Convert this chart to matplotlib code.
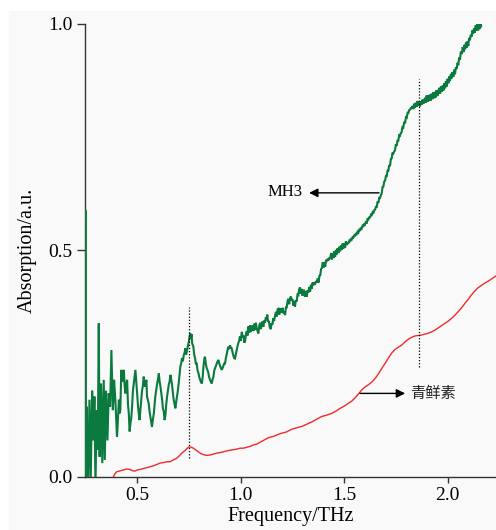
import numpy as np
import matplotlib
matplotlib.use("Agg")
import matplotlib.pyplot as plt
from matplotlib.patches import Rectangle

# ---------------- data ----------------
green_data = [
    (0.2485, -0.05), (0.2505, 0.589), (0.2525, -0.05), (0.2555, 0.155), (0.2585, 0.02),
    (0.263, -0.03), (0.270, 0.17), (0.276, -0.01), (0.283, 0.19), (0.289, 0.08),
    (0.294, 0.177), (0.299, -0.02), (0.305, 0.147), (0.310, 0.06), (0.315, 0.339),
    (0.319, 0.044), (0.326, 0.206), (0.332, 0.03), (0.339, 0.214), (0.344, 0.037),
    (0.350, 0.19), (0.357, 0.08), (0.363, 0.184), (0.370, 0.155), (0.376, 0.28),
    (0.383, 0.147), (0.389, 0.214), (0.395, 0.17), (0.403, 0.088), (0.408, 0.13),
    (0.412, 0.17), (0.416, 0.14), (0.419, 0.147), (0.424, 0.236), (0.428, 0.21),
    (0.432, 0.23), (0.436, 0.236), (0.440, 0.20), (0.444, 0.184), (0.448, 0.205),
    (0.452, 0.214), (0.456, 0.16), (0.460, 0.14), (0.464, 0.10), (0.468, 0.118),
    (0.472, 0.13), (0.476, 0.155), (0.480, 0.19), (0.484, 0.206), (0.488, 0.22),
    (0.492, 0.236), (0.496, 0.21), (0.500, 0.184), (0.504, 0.16), (0.508, 0.14),
    (0.512, 0.125), (0.516, 0.147), (0.520, 0.17), (0.524, 0.19), (0.528, 0.20),
    (0.532, 0.221), (0.536, 0.205), (0.540, 0.199), (0.545, 0.214), (0.548, 0.177),
    (0.552, 0.17), (0.556, 0.162), (0.560, 0.145), (0.564, 0.133), (0.568, 0.12),
    (0.572, 0.11), (0.576, 0.125), (0.581, 0.14), (0.585, 0.16), (0.588, 0.177),
    (0.592, 0.19), (0.597, 0.206), (0.601, 0.215), (0.605, 0.228), (0.609, 0.21),
    (0.613, 0.199), (0.617, 0.185), (0.621, 0.17), (0.625, 0.15), (0.629, 0.144),
    (0.633, 0.125), (0.637, 0.136), (0.641, 0.16), (0.645, 0.177), (0.649, 0.19),
    (0.653, 0.203), (0.657, 0.21), (0.661, 0.225), (0.665, 0.215), (0.669, 0.203),
    (0.673, 0.185), (0.677, 0.17), (0.681, 0.16), (0.685, 0.151), (0.689, 0.165),
    (0.693, 0.177), (0.697, 0.19), (0.701, 0.206), (0.705, 0.225), (0.709, 0.243),
    (0.713, 0.25), (0.717, 0.262), (0.721, 0.255), (0.726, 0.269), (0.730, 0.275),
    (0.733, 0.284), (0.737, 0.27), (0.742, 0.28), (0.746, 0.29), (0.750, 0.298),
    (0.754, 0.31), (0.757, 0.317), (0.760, 0.305), (0.763, 0.315), (0.766, 0.295),
    (0.772, 0.287), (0.776, 0.27), (0.780, 0.262), (0.784, 0.25), (0.788, 0.25),
    (0.792, 0.235), (0.796, 0.23), (0.800, 0.221), (0.804, 0.215), (0.808, 0.21),
    (0.813, 0.206), (0.817, 0.22), (0.821, 0.245), (0.825, 0.26), (0.828, 0.265),
    (0.832, 0.25), (0.836, 0.24), (0.840, 0.236), (0.844, 0.23), (0.848, 0.22),
    (0.852, 0.215), (0.856, 0.21), (0.861, 0.206), (0.865, 0.215), (0.869, 0.221),
    (0.873, 0.235), (0.877, 0.24), (0.881, 0.245), (0.885, 0.25), (0.889, 0.255),
    (0.893, 0.258), (0.897, 0.25), (0.901, 0.245), (0.905, 0.24), (0.909, 0.236),
    (0.913, 0.24), (0.917, 0.245), (0.921, 0.25), (0.925, 0.25), (0.929, 0.262),
    (0.933, 0.27), (0.937, 0.28), (0.941, 0.287), (0.945, 0.282), (0.949, 0.29),
    (0.953, 0.285), (0.957, 0.284), (0.961, 0.275), (0.965, 0.268), (0.969, 0.262),
    (0.973, 0.261), (0.977, 0.27), (0.981, 0.28), (0.985, 0.288), (0.989, 0.295),
    (0.993, 0.30), (0.997, 0.31),
    (1.001, 0.300), (1.006, 0.320), (1.010, 0.308), (1.014, 0.312), (1.018, 0.296),
    (1.022, 0.300), (1.026, 0.314), (1.030, 0.322), (1.034, 0.312), (1.038, 0.332),
    (1.042, 0.318), (1.046, 0.334), (1.050, 0.320), (1.054, 0.328), (1.058, 0.334),
    (1.062, 0.322), (1.066, 0.338), (1.070, 0.324), (1.074, 0.340), (1.078, 0.328),
    (1.082, 0.322), (1.086, 0.316), (1.090, 0.332), (1.094, 0.340), (1.098, 0.326),
    (1.102, 0.335), (1.106, 0.343), (1.110, 0.331), (1.114, 0.345), (1.118, 0.340),
    (1.122, 0.352), (1.126, 0.346), (1.129, 0.358), (1.133, 0.342), (1.137, 0.344),
    (1.141, 0.330), (1.146, 0.326), (1.150, 0.339), (1.154, 0.336), (1.158, 0.350),
    (1.162, 0.344), (1.167, 0.357), (1.171, 0.364), (1.175, 0.354), (1.179, 0.370),
    (1.183, 0.371), (1.187, 0.358), (1.191, 0.372), (1.195, 0.362), (1.199, 0.368),
    (1.203, 0.373), (1.207, 0.361), (1.211, 0.364), (1.215, 0.357), (1.219, 0.374),
    (1.223, 0.374), (1.227, 0.388), (1.231, 0.393), (1.235, 0.381), (1.239, 0.394),
    (1.243, 0.398), (1.247, 0.390), (1.251, 0.392), (1.255, 0.378), (1.259, 0.388),
    (1.263, 0.376), (1.267, 0.390), (1.271, 0.387), (1.275, 0.402), (1.279, 0.401),
    (1.283, 0.414), (1.287, 0.418), (1.291, 0.404), (1.295, 0.415), (1.299, 0.400),
    (1.303, 0.408), (1.307, 0.413), (1.311, 0.398), (1.316, 0.409), (1.320, 0.398),
    (1.324, 0.412), (1.328, 0.407), (1.332, 0.419), (1.336, 0.409), (1.340, 0.424),
    (1.344, 0.415), (1.348, 0.429), (1.352, 0.423), (1.356, 0.427), (1.360, 0.426),
    (1.364, 0.432), (1.368, 0.429), (1.373, 0.438), (1.377, 0.429), (1.381, 0.444),
    (1.385, 0.445), (1.389, 0.459), (1.393, 0.461), (1.397, 0.474), (1.401, 0.462),
    (1.405, 0.474), (1.409, 0.464), (1.413, 0.479), (1.417, 0.477), (1.421, 0.480),
    (1.425, 0.479), (1.429, 0.484), (1.433, 0.481), (1.437, 0.494), (1.441, 0.480),
    (1.445, 0.494), (1.449, 0.483), (1.453, 0.498), (1.457, 0.486), (1.461, 0.501),
    (1.465, 0.491), (1.469, 0.505), (1.473, 0.494), (1.477, 0.508), (1.481, 0.498),
    (1.485, 0.511), (1.489, 0.501), (1.493, 0.515), (1.497, 0.504), (1.501, 0.516),
    (1.505, 0.506), (1.509, 0.520), (1.513, 0.512), (1.517, 0.516), (1.521, 0.516),
    (1.525, 0.521), (1.529, 0.519), (1.533, 0.526), (1.537, 0.524), (1.541, 0.529),
    (1.545, 0.528), (1.549, 0.534), (1.553, 0.531), (1.557, 0.538), (1.561, 0.536),
    (1.565, 0.541), (1.569, 0.539), (1.573, 0.545), (1.577, 0.543), (1.581, 0.550),
    (1.585, 0.548), (1.589, 0.554), (1.593, 0.552), (1.597, 0.559), (1.601, 0.557),
    (1.605, 0.562), (1.610, 0.561), (1.614, 0.571), (1.618, 0.569), (1.622, 0.573),
    (1.626, 0.573), (1.630, 0.579), (1.634, 0.578), (1.638, 0.584), (1.642, 0.582),
    (1.646, 0.589), (1.650, 0.590), (1.654, 0.596), (1.658, 0.596), (1.662, 0.608),
    (1.666, 0.605), (1.670, 0.616), (1.674, 0.616), (1.678, 0.622), (1.682, 0.626),
    (1.686, 0.640), (1.690, 0.641), (1.694, 0.652), (1.698, 0.654), (1.702, 0.664),
    (1.706, 0.664), (1.710, 0.676), (1.714, 0.676), (1.718, 0.688), (1.722, 0.686),
    (1.726, 0.702), (1.730, 0.703), (1.734, 0.716), (1.738, 0.714), (1.742, 0.718),
    (1.746, 0.721), (1.750, 0.734), (1.754, 0.731), (1.758, 0.742), (1.762, 0.742),
    (1.766, 0.754), (1.770, 0.753), (1.774, 0.759), (1.778, 0.761), (1.782, 0.772),
    (1.786, 0.771), (1.790, 0.782), (1.795, 0.782), (1.799, 0.794), (1.803, 0.793),
    (1.807, 0.804), (1.811, 0.804), (1.815, 0.810), (1.819, 0.811), (1.823, 0.814),
    (1.827, 0.814), (1.831, 0.819), (1.835, 0.812), (1.839, 0.824), (1.843, 0.815),
    (1.847, 0.826), (1.851, 0.817), (1.855, 0.830), (1.859, 0.820), (1.863, 0.826),
    (1.867, 0.818), (1.871, 0.829), (1.875, 0.822), (1.879, 0.833), (1.883, 0.824),
    (1.887, 0.828), (1.891, 0.837), (1.895, 0.826), (1.899, 0.842), (1.903, 0.828),
    (1.907, 0.842), (1.911, 0.830), (1.915, 0.844), (1.919, 0.831), (1.923, 0.846),
    (1.927, 0.834), (1.931, 0.849), (1.935, 0.836), (1.939, 0.850), (1.943, 0.838),
    (1.947, 0.854), (1.951, 0.841), (1.956, 0.852), (1.960, 0.859), (1.964, 0.846),
    (1.968, 0.862), (1.972, 0.850), (1.976, 0.864), (1.980, 0.853), (1.984, 0.869),
    (1.988, 0.858), (1.992, 0.874), (1.996, 0.862), (2.000, 0.879), (2.004, 0.869),
    (2.008, 0.884), (2.012, 0.874), (2.016, 0.890), (2.020, 0.880), (2.024, 0.894),
    (2.028, 0.883), (2.032, 0.899), (2.036, 0.889), (2.040, 0.904), (2.044, 0.901),
    (2.048, 0.914), (2.052, 0.909), (2.056, 0.926), (2.060, 0.921), (2.064, 0.939),
    (2.069, 0.934), (2.073, 0.949), (2.077, 0.938), (2.081, 0.954), (2.085, 0.944),
    (2.089, 0.959), (2.093, 0.948), (2.097, 0.962), (2.100, 0.951), (2.104, 0.969),
    (2.108, 0.964), (2.112, 0.976), (2.116, 0.972), (2.120, 0.986), (2.124, 0.979),
    (2.128, 0.991), (2.132, 0.981), (2.136, 0.997), (2.140, 0.986), (2.144, 1.000),
    (2.148, 0.986), (2.152, 1.000), (2.156, 0.989), (2.160, 1.000), (2.162, 0.995),
]

red_data = [
    (0.249, 0.062), (0.251, 0.055), (0.253, 0.035), (0.255, 0.015), (0.257, -0.01),
    (0.260, -0.04), (0.280, -0.07), (0.330, -0.06), (0.370, -0.02), (0.386, 0.0),
    (0.394, 0.007), (0.402, 0.011), (0.418, 0.013), (0.434, 0.015), (0.450, 0.017),
    (0.466, 0.016), (0.478, 0.013), (0.490, 0.0125), (0.502, 0.015), (0.514, 0.016),
    (0.530, 0.018), (0.547, 0.020), (0.563, 0.022), (0.579, 0.024), (0.595, 0.027),
    (0.611, 0.030), (0.623, 0.031), (0.635, 0.032), (0.647, 0.033), (0.659, 0.033),
    (0.675, 0.037), (0.692, 0.041), (0.704, 0.046), (0.716, 0.052), (0.727, 0.056),
    (0.737, 0.060), (0.745, 0.064), (0.753, 0.066), (0.762, 0.065), (0.772, 0.063),
    (0.784, 0.059), (0.796, 0.055), (0.808, 0.051), (0.820, 0.049), (0.836, 0.047),
    (0.853, 0.048), (0.869, 0.050), (0.885, 0.052), (0.909, 0.054), (0.933, 0.057),
    (0.957, 0.059), (0.982, 0.061), (0.998, 0.063), (1.014, 0.063), (1.030, 0.065),
    (1.046, 0.067), (1.062, 0.070), (1.078, 0.072), (1.094, 0.076), (1.110, 0.080),
    (1.134, 0.086), (1.158, 0.089), (1.175, 0.092), (1.191, 0.095), (1.207, 0.097),
    (1.223, 0.099), (1.239, 0.103), (1.255, 0.106), (1.271, 0.108), (1.287, 0.110),
    (1.296, 0.111), (1.320, 0.116), (1.344, 0.121), (1.368, 0.127), (1.392, 0.133),
    (1.416, 0.136), (1.441, 0.140), (1.461, 0.145), (1.481, 0.151), (1.501, 0.156),
    (1.521, 0.162), (1.537, 0.167), (1.553, 0.174), (1.570, 0.183), (1.586, 0.192),
    (1.601, 0.198), (1.617, 0.203), (1.634, 0.209), (1.650, 0.217), (1.666, 0.227),
    (1.682, 0.239), (1.698, 0.250), (1.714, 0.262), (1.730, 0.273), (1.746, 0.281),
    (1.762, 0.286), (1.779, 0.291), (1.795, 0.298), (1.811, 0.304), (1.827, 0.308),
    (1.843, 0.311), (1.859, 0.312), (1.875, 0.313), (1.891, 0.315), (1.907, 0.317),
    (1.923, 0.320), (1.940, 0.324), (1.956, 0.329), (1.972, 0.334), (1.988, 0.339),
    (2.004, 0.344), (2.020, 0.350), (2.036, 0.357), (2.052, 0.365), (2.069, 0.374),
    (2.084, 0.383), (2.100, 0.392), (2.116, 0.402), (2.133, 0.411), (2.149, 0.418),
    (2.165, 0.423), (2.181, 0.428), (2.197, 0.432), (2.213, 0.437), (2.229, 0.442),
    (2.240, 0.445),
]

marker_freqs = [0.75, 1.862]
marker_spans = [(0.041, 0.375), (0.242, 0.878)]
x_ticks = [0.5, 1.0, 1.5, 2.0]
y_ticks = [0.0, 0.5, 1.0]
label_mh3 = "MH3"
label_red = "青鲜素"

green_freq, green_abs = np.array(green_data).T
red_freq, red_abs = np.array(red_data).T

# ---------------- figure ----------------
W, H = 496, 530
fig = plt.figure(figsize=(W / 100, H / 100), dpi=100, facecolor="white")
fig.patches.append(Rectangle((9 / W, 0), 1 - 9 / W, 1 - 11 / H,
                             transform=fig.transFigure, facecolor="#f9f9f9",
                             edgecolor="none", zorder=-10))

ax = fig.add_axes([84.7 / W, (H - 476.7) / H, (W - 84.7) / W, (476.7 - 24) / H])
ax.set_facecolor("none")

serif = "Liberation Serif"

ax.plot(red_freq, red_abs, color="#ee2b2b", lw=1.0, zorder=2)
ax.plot(green_freq, green_abs, color="#0b7a3e", lw=1.5, zorder=3,
        solid_joinstyle="miter")

for f, (y0, y1) in zip(marker_freqs, marker_spans):
    ax.plot([f, f], [y0, y1], color="black", lw=0.9, ls=(0, (1, 1.5)), zorder=4)

arrow = dict(arrowstyle="-|>", color="black", lw=1.0, mutation_scale=13,
             shrinkA=0, shrinkB=0)
ax.annotate("", xy=(1.331, 0.627), xytext=(1.669, 0.627), arrowprops=arrow)
ax.text(1.297, 0.628, label_mh3, ha="right", va="center",
        fontsize=12, family=serif)
ax.annotate("", xy=(1.795, 0.184), xytext=(1.577, 0.184), arrowprops=arrow)
ax.text(1.819, 0.184, label_red, ha="left", va="center", fontsize=11,
        family=["Noto Sans CJK SC", "DejaVu Sans"], color="#222222")

ax.set_xlim(0.247, 2.234)
ax.set_ylim(0.0, 1.0)
ax.set_xticks(x_ticks)
ax.set_xticklabels([f"{t:.1f}" for t in x_ticks])
ax.set_yticks(y_ticks)
ax.set_yticklabels([f"{t:.1f}" for t in y_ticks])

for s in ["top", "right"]:
    ax.spines[s].set_visible(False)
for s in ["left", "bottom"]:
    ax.spines[s].set_color("#333333")
    ax.spines[s].set_linewidth(1.0)

ax.tick_params(axis="y", direction="out", length=6, width=1.0, color="#333333",
               pad=3, labelsize=14)
ax.tick_params(axis="x", direction="out", length=4.5, width=1.0, color="#333333",
               pad=3, labelsize=14)
for lab in ax.get_xticklabels() + ax.get_yticklabels():
    lab.set_family(serif)

ax.set_xlabel("Frequency/THz", fontsize=14.5, family=serif, labelpad=2)
ax.set_ylabel("Absorption/a.u.", fontsize=14.5, family=serif, labelpad=8)

fig.savefig("out.png", dpi=100, facecolor=fig.get_facecolor())
